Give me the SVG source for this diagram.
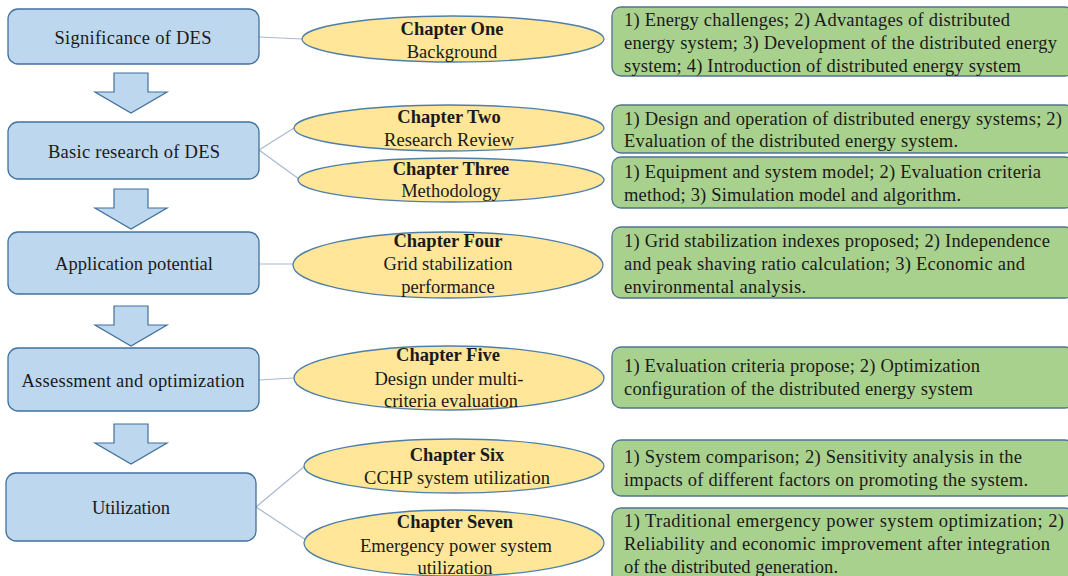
<svg xmlns="http://www.w3.org/2000/svg" width="1068" height="576" viewBox="0 0 1068 576" font-family="'Liberation Serif', 'Times New Roman', 'DejaVu Serif', serif">
<style>
.bg{fill:#ffffff}
.stage{fill:#BDD7EE;stroke:#41719C;stroke-width:1.3}
.flow{fill:#BDD7EE;stroke:#41719C;stroke-width:1.2}
.chap{fill:#FFE699;stroke:#4F7FA8;stroke-width:1.3}
.desc{fill:#A9D18E;stroke:#4F7396;stroke-width:1.3}
.conn{stroke:#A9B9CF;stroke-width:1.2;fill:none}
text{font-family:'Liberation Serif','Times New Roman','DejaVu Serif',serif;font-size:18.5px;fill:#1a1a1a}
.c{text-anchor:middle}
.b{font-weight:bold}
</style>
<rect class="bg" x="0" y="0" width="1068" height="576"/>
<g id="connectors">
<line class="conn" x1="259" y1="37" x2="302" y2="39"/>
<line class="conn" x1="259" y1="150" x2="294" y2="128"/>
<line class="conn" x1="259" y1="150" x2="299" y2="179"/>
<line class="conn" x1="259" y1="264" x2="293" y2="264"/>
<line class="conn" x1="259" y1="380" x2="294" y2="378"/>
<line class="conn" x1="256" y1="507" x2="305" y2="466"/>
<line class="conn" x1="256" y1="507" x2="306" y2="540"/>
<polygon class="flow" points="114,73 148,73 148,92 167,92 131,113 95,92 114,92"/>
<polygon class="flow" points="114,189 148,189 148,208 167,208 131,229 95,208 114,208"/>
<polygon class="flow" points="114,306 148,306 148,325 167,325 131,346 95,325 114,325"/>
<polygon class="flow" points="114,424 148,424 148,443 167,443 131,464 95,443 114,443"/>
</g>
<g id="stage1"><rect class="stage" x="8" y="9" width="251" height="55" rx="10"/><text class="c" x="133" y="44" textLength="157" lengthAdjust="spacing">Significance of DES</text></g>
<g id="stage2"><rect class="stage" x="8" y="122" width="251" height="57" rx="10"/><text class="c" x="134" y="158" textLength="172" lengthAdjust="spacing">Basic research of DES</text></g>
<g id="stage3"><rect class="stage" x="8" y="232" width="251" height="62" rx="10"/><text class="c" x="134" y="270" textLength="158" lengthAdjust="spacing">Application potential</text></g>
<g id="stage4"><rect class="stage" x="8" y="348" width="251" height="63" rx="10"/><text class="c" x="133" y="387" textLength="223" lengthAdjust="spacing">Assessment and optimization</text></g>
<g id="stage5"><rect class="stage" x="6" y="473" width="250" height="68" rx="10"/><text class="c" x="131" y="514" textLength="78" lengthAdjust="spacing">Utilization</text></g>

<g id="ch1"><ellipse class="chap" cx="453" cy="39" rx="151" ry="23"/>
<text class="c b" x="452" y="35">Chapter One</text><text class="c" x="452" y="58">Background</text></g>
<g id="ch2"><ellipse class="chap" cx="449" cy="128" rx="155" ry="23"/>
<text class="c b" x="449" y="123">Chapter Two</text><text class="c" x="449" y="146" textLength="130" lengthAdjust="spacing">Research Review</text></g>
<g id="ch3"><ellipse class="chap" cx="451" cy="180" rx="153" ry="22"/>
<text class="c b" x="451" y="175">Chapter Three</text><text class="c" x="451" y="197">Methodology</text></g>
<g id="ch4"><ellipse class="chap" cx="448" cy="265" rx="155" ry="33"/>
<text class="c b" x="448" y="247">Chapter Four</text><text class="c" x="448" y="270">Grid stabilization</text><text class="c" x="448" y="293">performance</text></g>
<g id="ch5"><ellipse class="chap" cx="449" cy="378" rx="155" ry="32"/>
<text class="c b" x="448" y="361">Chapter Five</text><text class="c" x="449" y="385">Design under multi-</text><text class="c" x="451" y="407">criteria evaluation</text></g>
<g id="ch6"><ellipse class="chap" cx="454" cy="466" rx="150" ry="27"/>
<text class="c b" x="457" y="461">Chapter Six</text><text class="c" x="457" y="484" textLength="186" lengthAdjust="spacing">CCHP system utilization</text></g>
<g id="ch7"><ellipse class="chap" cx="454" cy="543" rx="150" ry="33"/>
<text class="c b" x="455" y="528">Chapter Seven</text><text class="c" x="456" y="552" textLength="192" lengthAdjust="spacing">Emergency power system</text><text class="c" x="455" y="574">utilization</text></g>

<g id="desc1"><rect class="desc" x="612" y="7" width="462" height="69" rx="9"/>
<text x="624" y="26" textLength="386" lengthAdjust="spacing">1) Energy challenges; 2) Advantages of distributed</text>
<text x="624" y="49" textLength="433" lengthAdjust="spacing">energy system; 3) Development of the distributed energy</text>
<text x="624" y="72" textLength="397" lengthAdjust="spacing">system; 4) Introduction of distributed energy system</text></g>
<g id="desc2"><rect class="desc" x="612" y="105" width="462" height="48" rx="9"/>
<text x="624" y="125" textLength="438" lengthAdjust="spacing">1) Design and operation of distributed energy systems; 2)</text>
<text x="624" y="147" textLength="334" lengthAdjust="spacing">Evaluation of the distributed energy system.</text></g>
<g id="desc3"><rect class="desc" x="612" y="157" width="462" height="51" rx="9"/>
<text x="624" y="178" textLength="417" lengthAdjust="spacing">1) Equipment and system model; 2) Evaluation criteria</text>
<text x="624" y="201" textLength="337" lengthAdjust="spacing">method; 3) Simulation model and algorithm.</text></g>
<g id="desc4"><rect class="desc" x="612" y="227" width="462" height="71" rx="9"/>
<text x="624" y="247" textLength="426" lengthAdjust="spacing">1) Grid stabilization indexes proposed; 2) Independence</text>
<text x="624" y="270" textLength="401" lengthAdjust="spacing">and peak shaving ratio calculation; 3) Economic and</text>
<text x="624" y="293" textLength="182" lengthAdjust="spacing">environmental analysis.</text></g>
<g id="desc5"><rect class="desc" x="612" y="347" width="462" height="61" rx="9"/>
<text x="624" y="372" textLength="356" lengthAdjust="spacing">1) Evaluation criteria propose; 2) Optimization</text>
<text x="624" y="395" textLength="349" lengthAdjust="spacing">configuration of the distributed energy system</text></g>
<g id="desc6"><rect class="desc" x="612" y="440" width="462" height="56" rx="9"/>
<text x="624" y="463" textLength="398" lengthAdjust="spacing">1) System comparison; 2) Sensitivity analysis in the</text>
<text x="624" y="486" textLength="404" lengthAdjust="spacing">impacts of different factors on promoting the system.</text></g>
<g id="desc7"><rect class="desc" x="612" y="508" width="462" height="80" rx="9"/>
<text x="624" y="527" textLength="440" lengthAdjust="spacing">1) Traditional emergency power system optimization; 2)</text>
<text x="624" y="550" textLength="426" lengthAdjust="spacing">Reliability and economic improvement after integration</text>
<text x="624" y="573" textLength="214" lengthAdjust="spacing">of the distributed generation.</text></g>
</svg>
